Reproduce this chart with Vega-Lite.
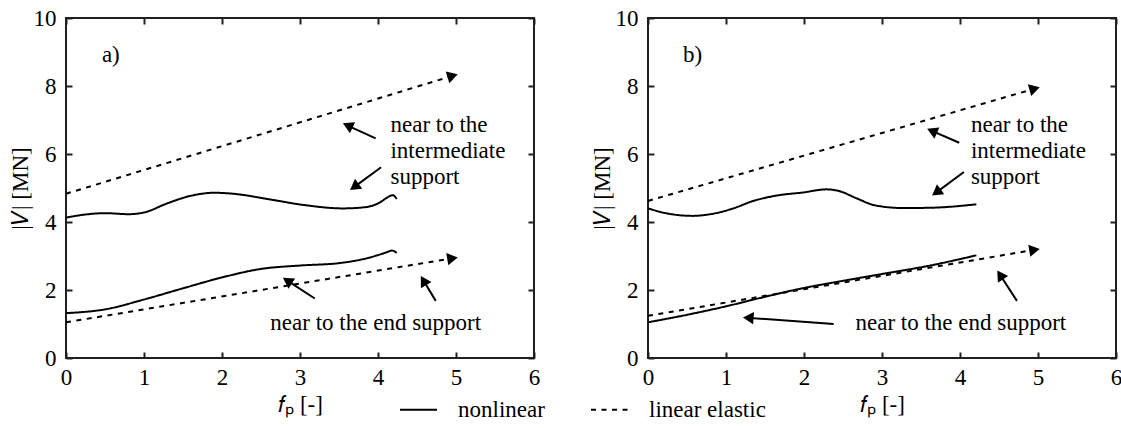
{
  "$schema": "https://vega.github.io/schema/vega-lite/v6.json",
  "background": "white",
  "padding": {"left": 8, "top": 6, "right": 5, "bottom": 5},
  "config": {
    "font": "Liberation Serif, Times New Roman, Times, serif",
    "view": {"stroke": "#231f20", "strokeWidth": 2},
    "axis": {"labelFont": "Liberation Serif, Times New Roman, Times, serif", "titleFont": "Liberation Serif, Times New Roman, Times, serif", "labelFontSize": 23, "titleFontSize": 23, "labelColor": "black", "titleColor": "black", "titleFontWeight": "normal", "tickColor": "#231f20", "tickWidth": 2, "grid": false, "domain": false},
    "legend": {"labelFont": "Liberation Serif, Times New Roman, Times, serif"},
    "text": {"font": "Liberation Serif, Times New Roman, Times, serif", "fontSize": 23, "color": "black"}
  },
  "datasets": {
    "curves": [
      {"panel": "a", "series": "a-lin-int", "type": "linear elastic", "i": 0, "x": 0, "y": 4.83},
      {"panel": "a", "series": "a-lin-int", "type": "linear elastic", "i": 1, "x": 4.935, "y": 8.285},
      {"panel": "a", "series": "a-lin-end", "type": "linear elastic", "i": 0, "x": 0, "y": 1.05},
      {"panel": "a", "series": "a-lin-end", "type": "linear elastic", "i": 1, "x": 4.933, "y": 2.925},
      {"panel": "a", "series": "a-nl-int", "type": "nonlinear", "i": 0, "x": 0, "y": 4.13},
      {"panel": "a", "series": "a-nl-int", "type": "nonlinear", "i": 1, "x": 0.25, "y": 4.22},
      {"panel": "a", "series": "a-nl-int", "type": "nonlinear", "i": 2, "x": 0.5, "y": 4.26},
      {"panel": "a", "series": "a-nl-int", "type": "nonlinear", "i": 3, "x": 0.8, "y": 4.23},
      {"panel": "a", "series": "a-nl-int", "type": "nonlinear", "i": 4, "x": 1.0, "y": 4.28},
      {"panel": "a", "series": "a-nl-int", "type": "nonlinear", "i": 5, "x": 1.3, "y": 4.55},
      {"panel": "a", "series": "a-nl-int", "type": "nonlinear", "i": 6, "x": 1.6, "y": 4.77},
      {"panel": "a", "series": "a-nl-int", "type": "nonlinear", "i": 7, "x": 1.9, "y": 4.86},
      {"panel": "a", "series": "a-nl-int", "type": "nonlinear", "i": 8, "x": 2.15, "y": 4.83},
      {"panel": "a", "series": "a-nl-int", "type": "nonlinear", "i": 9, "x": 2.6, "y": 4.67},
      {"panel": "a", "series": "a-nl-int", "type": "nonlinear", "i": 10, "x": 3.05, "y": 4.5},
      {"panel": "a", "series": "a-nl-int", "type": "nonlinear", "i": 11, "x": 3.55, "y": 4.4},
      {"panel": "a", "series": "a-nl-int", "type": "nonlinear", "i": 12, "x": 3.85, "y": 4.44},
      {"panel": "a", "series": "a-nl-int", "type": "nonlinear", "i": 13, "x": 4.02, "y": 4.57},
      {"panel": "a", "series": "a-nl-int", "type": "nonlinear", "i": 14, "x": 4.12, "y": 4.72},
      {"panel": "a", "series": "a-nl-int", "type": "nonlinear", "i": 15, "x": 4.19, "y": 4.79},
      {"panel": "a", "series": "a-nl-int", "type": "nonlinear", "i": 16, "x": 4.24, "y": 4.68},
      {"panel": "a", "series": "a-nl-end", "type": "nonlinear", "i": 0, "x": 0, "y": 1.32},
      {"panel": "a", "series": "a-nl-end", "type": "nonlinear", "i": 1, "x": 0.5, "y": 1.43},
      {"panel": "a", "series": "a-nl-end", "type": "nonlinear", "i": 2, "x": 1.0, "y": 1.72},
      {"panel": "a", "series": "a-nl-end", "type": "nonlinear", "i": 3, "x": 1.5, "y": 2.05},
      {"panel": "a", "series": "a-nl-end", "type": "nonlinear", "i": 4, "x": 2.0, "y": 2.37},
      {"panel": "a", "series": "a-nl-end", "type": "nonlinear", "i": 5, "x": 2.5, "y": 2.62},
      {"panel": "a", "series": "a-nl-end", "type": "nonlinear", "i": 6, "x": 3.0, "y": 2.72},
      {"panel": "a", "series": "a-nl-end", "type": "nonlinear", "i": 7, "x": 3.5, "y": 2.79},
      {"panel": "a", "series": "a-nl-end", "type": "nonlinear", "i": 8, "x": 3.85, "y": 2.93},
      {"panel": "a", "series": "a-nl-end", "type": "nonlinear", "i": 9, "x": 4.1, "y": 3.1},
      {"panel": "a", "series": "a-nl-end", "type": "nonlinear", "i": 10, "x": 4.18, "y": 3.16},
      {"panel": "a", "series": "a-nl-end", "type": "nonlinear", "i": 11, "x": 4.24, "y": 3.09},
      {"panel": "b", "series": "b-lin-int", "type": "linear elastic", "i": 0, "x": 0, "y": 4.62},
      {"panel": "b", "series": "b-lin-int", "type": "linear elastic", "i": 1, "x": 4.935, "y": 7.907},
      {"panel": "b", "series": "b-lin-end", "type": "linear elastic", "i": 0, "x": 0, "y": 1.24},
      {"panel": "b", "series": "b-lin-end", "type": "linear elastic", "i": 1, "x": 4.933, "y": 3.174},
      {"panel": "b", "series": "b-nl-int", "type": "nonlinear", "i": 0, "x": 0, "y": 4.4},
      {"panel": "b", "series": "b-nl-int", "type": "nonlinear", "i": 1, "x": 0.25, "y": 4.25},
      {"panel": "b", "series": "b-nl-int", "type": "nonlinear", "i": 2, "x": 0.57, "y": 4.18},
      {"panel": "b", "series": "b-nl-int", "type": "nonlinear", "i": 3, "x": 0.8, "y": 4.23},
      {"panel": "b", "series": "b-nl-int", "type": "nonlinear", "i": 4, "x": 1.08, "y": 4.39},
      {"panel": "b", "series": "b-nl-int", "type": "nonlinear", "i": 5, "x": 1.35, "y": 4.62},
      {"panel": "b", "series": "b-nl-int", "type": "nonlinear", "i": 6, "x": 1.63, "y": 4.77},
      {"panel": "b", "series": "b-nl-int", "type": "nonlinear", "i": 7, "x": 1.99, "y": 4.87},
      {"panel": "b", "series": "b-nl-int", "type": "nonlinear", "i": 8, "x": 2.29, "y": 4.96},
      {"panel": "b", "series": "b-nl-int", "type": "nonlinear", "i": 9, "x": 2.45, "y": 4.91},
      {"panel": "b", "series": "b-nl-int", "type": "nonlinear", "i": 10, "x": 2.68, "y": 4.69},
      {"panel": "b", "series": "b-nl-int", "type": "nonlinear", "i": 11, "x": 2.91, "y": 4.49},
      {"panel": "b", "series": "b-nl-int", "type": "nonlinear", "i": 12, "x": 3.28, "y": 4.41},
      {"panel": "b", "series": "b-nl-int", "type": "nonlinear", "i": 13, "x": 3.64, "y": 4.42},
      {"panel": "b", "series": "b-nl-int", "type": "nonlinear", "i": 14, "x": 4.21, "y": 4.52},
      {"panel": "b", "series": "b-nl-end", "type": "nonlinear", "i": 0, "x": 0, "y": 1.05},
      {"panel": "b", "series": "b-nl-end", "type": "nonlinear", "i": 1, "x": 0.5, "y": 1.27},
      {"panel": "b", "series": "b-nl-end", "type": "nonlinear", "i": 2, "x": 1.0, "y": 1.52},
      {"panel": "b", "series": "b-nl-end", "type": "nonlinear", "i": 3, "x": 1.5, "y": 1.8},
      {"panel": "b", "series": "b-nl-end", "type": "nonlinear", "i": 4, "x": 2.0, "y": 2.06},
      {"panel": "b", "series": "b-nl-end", "type": "nonlinear", "i": 5, "x": 2.5, "y": 2.27},
      {"panel": "b", "series": "b-nl-end", "type": "nonlinear", "i": 6, "x": 3.0, "y": 2.47},
      {"panel": "b", "series": "b-nl-end", "type": "nonlinear", "i": 7, "x": 3.64, "y": 2.73},
      {"panel": "b", "series": "b-nl-end", "type": "nonlinear", "i": 8, "x": 4.21, "y": 3.02}
    ],
    "shafts": [
      {"panel": "a", "x": 3.97, "y": 6.46, "x2": 3.632, "y2": 6.815},
      {"panel": "a", "x": 4.04, "y": 5.61, "x2": 3.715, "y2": 5.062},
      {"panel": "a", "x": 3.19, "y": 1.75, "x2": 2.857, "y2": 2.245},
      {"panel": "a", "x": 4.74, "y": 1.68, "x2": 4.595, "y2": 2.236},
      {"panel": "b", "x": 3.99, "y": 6.33, "x2": 3.662, "y2": 6.657},
      {"panel": "b", "x": 4.05, "y": 5.47, "x2": 3.715, "y2": 4.902},
      {"panel": "b", "x": 4.73, "y": 1.68, "x2": 4.527, "y2": 2.399},
      {"panel": "b", "x": 2.38, "y": 1.0, "x2": 1.308, "y2": 1.179}
    ],
    "heads": [
      {"panel": "a", "x": 4.935, "y": 8.285, "dir": 73.0},
      {"panel": "a", "x": 4.933, "y": 2.925, "dir": 80.6},
      {"panel": "a", "x": 3.632, "y": 6.815, "dir": 294.6},
      {"panel": "a", "x": 3.715, "y": 5.062, "dir": 233.6},
      {"panel": "a", "x": 2.857, "y": 2.245, "dir": 302.9},
      {"panel": "a", "x": 4.595, "y": 2.236, "dir": 329.2},
      {"panel": "b", "x": 4.935, "y": 7.907, "dir": 73.9},
      {"panel": "b", "x": 4.933, "y": 3.174, "dir": 80.3},
      {"panel": "b", "x": 3.662, "y": 6.657, "dir": 293.6},
      {"panel": "b", "x": 3.715, "y": 4.902, "dir": 233.6},
      {"panel": "b", "x": 4.527, "y": 2.399, "dir": 327.1},
      {"panel": "b", "x": 1.308, "y": 1.179, "dir": 274.2}
    ],
    "labels": [
      {"panel": "a", "x": 0.46, "y": 8.72, "text": "a)"},
      {"panel": "a", "x": 4.16, "y": 6.65, "text": "near to the"},
      {"panel": "a", "x": 4.16, "y": 5.87, "text": "intermediate"},
      {"panel": "a", "x": 4.16, "y": 5.12, "text": "support"},
      {"panel": "a", "x": 2.62, "y": 0.82, "text": "near to the end support"},
      {"panel": "b", "x": 0.45, "y": 8.72, "text": "b)"},
      {"panel": "b", "x": 4.14, "y": 6.65, "text": "near to the"},
      {"panel": "b", "x": 4.14, "y": 5.87, "text": "intermediate"},
      {"panel": "b", "x": 4.14, "y": 5.12, "text": "support"},
      {"panel": "b", "x": 2.66, "y": 0.82, "text": "near to the end support"}
    ]
  },
  "spacing": 49,
  "hconcat": [
    {
      "width": 468, "height": 340,
      "resolve": {"axis": {"x": "independent", "y": "independent"}},
      "layer": [
        {
          "data": {"name": "curves"},
          "transform": [{"filter": "datum.panel == 'a'"}],
          "mark": {"type": "line", "interpolate": "monotone", "strokeWidth": 2, "color": "black"},
          "encoding": {
            "x": {"field": "x", "type": "quantitative", "scale": {"domain": [0, 6], "nice": false}, "axis": {"orient": "bottom", "values": [0, 1, 2, 3, 4, 5, 6], "tickSize": -6, "labelPadding": 14, "labelFlush": false, "title": "𝑓ₚ [-]", "titlePadding": 4}},
            "y": {"field": "y", "type": "quantitative", "scale": {"domain": [0, 10], "nice": false}, "axis": {"orient": "left", "values": [0, 2, 4, 6, 8, 10], "tickSize": -6, "labelPadding": 16, "labelFlush": false, "title": "|𝑉|  [MN]", "titlePadding": 1}},
            "detail": {"field": "series"},
            "order": {"field": "i", "type": "quantitative"},
            "strokeDash": {"field": "type", "type": "nominal", "scale": {"domain": ["nonlinear", "linear elastic"], "range": [[1, 0], [5, 5.5]]},
              "legend": {"orient": "none", "legendX": 333, "legendY": 372, "direction": "horizontal", "title": null, "symbolType": "stroke", "symbolSize": 1369, "symbolStrokeWidth": 2, "symbolStrokeColor": "black", "labelFontSize": 23, "labelColor": "black", "labelOffset": 20, "columnPadding": 42, "padding": 0}}
          }
        },
        {
          "data": {"name": "shafts"},
          "transform": [{"filter": "datum.panel == 'a'"}],
          "mark": {"type": "rule", "strokeWidth": 2, "color": "black"},
          "encoding": {
            "x": {"field": "x", "type": "quantitative", "scale": {"domain": [0, 6], "nice": false}, "axis": {"orient": "top", "values": [0, 1, 2, 3, 4, 5, 6], "tickSize": -6, "labels": false, "title": null}},
            "y": {"field": "y", "type": "quantitative", "scale": {"domain": [0, 10], "nice": false}, "axis": {"orient": "right", "values": [0, 2, 4, 6, 8, 10], "tickSize": -6, "labels": false, "title": null}},
            "x2": {"field": "x2"},
            "y2": {"field": "y2"}
          }
        },
        {
          "data": {"name": "heads"},
          "transform": [{"filter": "datum.panel == 'a'"}],
          "mark": {"type": "point", "shape": "triangle", "filled": true, "size": 150, "color": "black", "opacity": 1},
          "encoding": {
            "x": {"field": "x", "type": "quantitative", "axis": null},
            "y": {"field": "y", "type": "quantitative", "axis": null},
            "angle": {"field": "dir", "type": "quantitative", "scale": null}
          }
        },
        {
          "data": {"name": "labels"},
          "transform": [{"filter": "datum.panel == 'a'"}],
          "mark": {"type": "text", "align": "left", "baseline": "alphabetic"},
          "encoding": {
            "x": {"field": "x", "type": "quantitative", "axis": null},
            "y": {"field": "y", "type": "quantitative", "axis": null},
            "text": {"field": "text"}
          }
        }
      ]
    },
    {
      "width": 468, "height": 340,
      "resolve": {"axis": {"x": "independent", "y": "independent"}},
      "layer": [
        {
          "data": {"name": "curves"},
          "transform": [{"filter": "datum.panel == 'b'"}],
          "mark": {"type": "line", "interpolate": "monotone", "strokeWidth": 2, "color": "black"},
          "encoding": {
            "x": {"field": "x", "type": "quantitative", "scale": {"domain": [0, 6], "nice": false}, "axis": {"orient": "bottom", "values": [0, 1, 2, 3, 4, 5, 6], "tickSize": -6, "labelPadding": 14, "labelFlush": false, "title": "𝑓ₚ [-]", "titlePadding": 4}},
            "y": {"field": "y", "type": "quantitative", "scale": {"domain": [0, 10], "nice": false}, "axis": {"orient": "left", "values": [0, 2, 4, 6, 8, 10], "tickSize": -6, "labelPadding": 16, "labelFlush": false, "title": "|𝑉|  [MN]", "titlePadding": 1}},
            "detail": {"field": "series"},
            "order": {"field": "i", "type": "quantitative"},
            "strokeDash": {"field": "type", "type": "nominal", "scale": {"domain": ["nonlinear", "linear elastic"], "range": [[1, 0], [5, 5.5]]}}
          }
        },
        {
          "data": {"name": "shafts"},
          "transform": [{"filter": "datum.panel == 'b'"}],
          "mark": {"type": "rule", "strokeWidth": 2, "color": "black"},
          "encoding": {
            "x": {"field": "x", "type": "quantitative", "scale": {"domain": [0, 6], "nice": false}, "axis": {"orient": "top", "values": [0, 1, 2, 3, 4, 5, 6], "tickSize": -6, "labels": false, "title": null}},
            "y": {"field": "y", "type": "quantitative", "scale": {"domain": [0, 10], "nice": false}, "axis": {"orient": "right", "values": [0, 2, 4, 6, 8, 10], "tickSize": -6, "labels": false, "title": null}},
            "x2": {"field": "x2"},
            "y2": {"field": "y2"}
          }
        },
        {
          "data": {"name": "heads"},
          "transform": [{"filter": "datum.panel == 'b'"}],
          "mark": {"type": "point", "shape": "triangle", "filled": true, "size": 150, "color": "black", "opacity": 1},
          "encoding": {
            "x": {"field": "x", "type": "quantitative", "axis": null},
            "y": {"field": "y", "type": "quantitative", "axis": null},
            "angle": {"field": "dir", "type": "quantitative", "scale": null}
          }
        },
        {
          "data": {"name": "labels"},
          "transform": [{"filter": "datum.panel == 'b'"}],
          "mark": {"type": "text", "align": "left", "baseline": "alphabetic"},
          "encoding": {
            "x": {"field": "x", "type": "quantitative", "axis": null},
            "y": {"field": "y", "type": "quantitative", "axis": null},
            "text": {"field": "text"}
          }
        }
      ]
    }
  ]
}
